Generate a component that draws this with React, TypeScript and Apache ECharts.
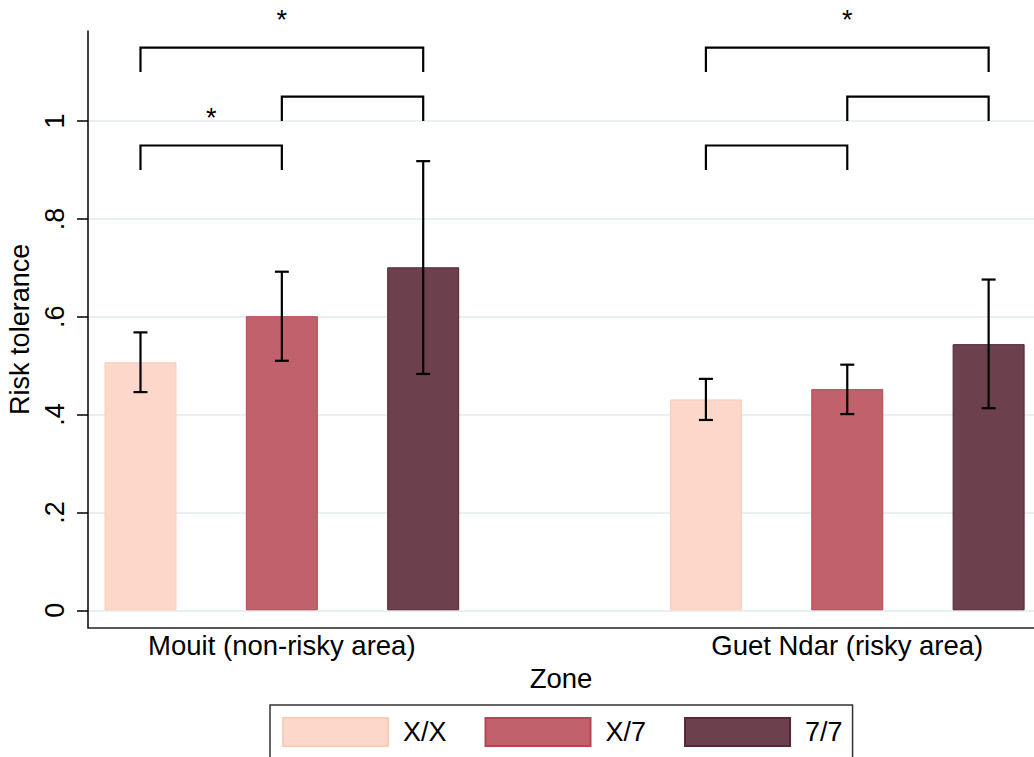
import React, { useEffect, useRef } from "react";
import * as echarts from "echarts";

// ---- data ----
const zones = ["Mouit (non-risky area)", "Guet Ndar (risky area)"];
const groups = ["X/X", "X/7", "7/7"];
const meanXX = [0.507, 0.431];
const meanX7 = [0.601, 0.452];
const mean77 = [0.701, 0.544];
const lowXX = [0.446, 0.389];
const highXX = [0.568, 0.473];
const lowX7 = [0.51, 0.401];
const highX7 = [0.692, 0.502];
const low77 = [0.483, 0.413];
const high77 = [0.918, 0.676];
const yTicks = [0, 0.2, 0.4, 0.6, 0.8, 1];
const yTickLabels = ["0", ".2", ".4", ".6", ".8", "1"];
// significance brackets (group indices within a zone)
const bracketZone = [0, 0, 0, 1, 1, 1];
const bracketFrom = [0, 1, 0, 0, 1, 0];
const bracketTo = [2, 2, 1, 2, 2, 1];
const bracketTop = [1.15, 1.05, 0.95, 1.15, 1.05, 0.95];
const bracketStar = ["*", "", "*", "*", "", ""];

// ---- styles ----
const colors = ["#fdd7c9", "#c0616b", "#6c404c"];
const borderColors = ["#fbcdb9", "#b64656", "#552634"];
const FONT = "'Liberation Sans', Arial, Helvetica, sans-serif";

const means = [meanXX, meanX7, mean77];
const lows = [lowXX, lowX7, low77];
const highs = [highXX, highX7, high77];
const slot = (z: number, g: number) => z * (groups.length + 1) + g + 1;

export default function App() {
  const ref = useRef<HTMLDivElement>(null);
  useEffect(() => {
    if (!ref.current) return;
    const chart = echarts.init(ref.current, null, { renderer: "svg" });

    const barSeries = groups.map((name, g) => ({
      name,
      type: "bar",
      barWidth: 72,
      barGap: "-100%",
      itemStyle: { color: colors[g], borderColor: borderColors[g], borderWidth: 1 },
      data: zones.map((_, z) => [slot(z, g), means[g][z]]),
      z: 2,
    }));

    const errData: number[][] = [];
    groups.forEach((_, g) =>
      zones.forEach((__, z) => errData.push([slot(z, g), lows[g][z], highs[g][z]]))
    );

    const bracketData = bracketZone.map((z, i) => [
      slot(z, bracketFrom[i]),
      slot(z, bracketTo[i]),
      bracketTop[i],
      bracketTop[i] - 0.05,
    ]);

    const option: any = {
      animation: false,
      backgroundColor: "#ffffff",
      textStyle: { fontFamily: FONT },
      grid: {
        left: 88,
        right: 0,
        top: 31,
        bottom: 129.3,
        containLabel: false,
        outerBoundsMode: "none",
      },
      xAxis: {
        type: "value",
        min: 0.6287,
        max: 7.321,
        name: "Zone",
        nameLocation: "middle",
        nameGap: 22,
        nameTextStyle: { fontSize: 27.5, color: "#000", fontFamily: FONT },
        axisLine: { show: true, onZero: false, lineStyle: { color: "#222", width: 1.5 } },
        axisTick: { show: false },
        splitLine: { show: false },
        axisLabel: {
          customValues: zones.map((_, z) => slot(z, 1)),
          formatter: (v: number) => zones[Math.round((v - 2) / (groups.length + 1))] ?? "",
          fontSize: 27.5,
          color: "#000",
          margin: 4,
          fontFamily: FONT,
        },
      },
      yAxis: {
        type: "value",
        min: -0.0356,
        max: 1.184,
        name: "Risk tolerance",
        nameLocation: "middle",
        nameRotate: 90,
        nameGap: 49,
        nameTextStyle: { fontSize: 27, color: "#000", fontFamily: FONT },
        axisLine: { show: true, onZero: false, lineStyle: { color: "#000", width: 1.5 } },
        axisTick: {
          show: true,
          customValues: yTicks,
          length: 11,
          lineStyle: { color: "#000", width: 1.5 },
        },
        axisLabel: {
          customValues: yTicks,
          rotate: 90,
          margin: 20,
          fontSize: 27,
          color: "#000",
          fontFamily: FONT,
          formatter: (v: number) => {
            const i = yTicks.findIndex((t) => Math.abs(t - v) < 1e-6);
            return i >= 0 ? yTickLabels[i] : "";
          },
        },
        splitLine: { show: true, lineStyle: { color: "#e9f0f2", width: 2 } },
      },
      legend: {
        data: groups,
        left: 270,
        top: 705,
        orient: "horizontal",
        icon: "rect",
        itemWidth: 105,
        itemHeight: 28,
        itemGap: 38,
        padding: [12, 10, 11, 12],
        borderColor: "#333",
        borderWidth: 1.5,
        textStyle: { fontSize: 27, color: "#000", fontFamily: FONT, padding: [0, 0, 0, 10] },
        selectedMode: false,
      },
      series: [
        ...barSeries,
        {
          type: "custom",
          name: "errorbars",
          z: 5,
          encode: { x: 0, y: [1, 2] },
          data: errData,
          renderItem: (_p: any, api: any) => {
            const x = api.value(0);
            const lo = api.coord([x, api.value(1)]);
            const hi = api.coord([x, api.value(2)]);
            const half = 7;
            const st = { stroke: "#000", lineWidth: 2.2 };
            return {
              type: "group",
              children: [
                { type: "line", shape: { x1: lo[0], y1: lo[1], x2: hi[0], y2: hi[1] }, style: st },
                { type: "line", shape: { x1: lo[0] - half, y1: lo[1], x2: lo[0] + half, y2: lo[1] }, style: st },
                { type: "line", shape: { x1: hi[0] - half, y1: hi[1], x2: hi[0] + half, y2: hi[1] }, style: st },
              ],
            };
          },
        },
        {
          type: "custom",
          name: "brackets",
          z: 5,
          clip: false,
          encode: { x: [0, 1], y: [2, 3] },
          data: bracketData,
          renderItem: (p: any, api: any) => {
            const a = api.coord([api.value(0), api.value(2)]);
            const b = api.coord([api.value(1), api.value(2)]);
            const legA = api.coord([api.value(0), api.value(3)]);
            const legB = api.coord([api.value(1), api.value(3)]);
            const star = bracketStar[p.dataIndex];
            const starPt = api.coord([(api.value(0) + api.value(1)) / 2, api.value(2) + 0.056]);
            const children: any[] = [
              {
                type: "polyline",
                shape: { points: [legA, a, b, legB] },
                style: { stroke: "#000", lineWidth: 2.2, fill: null },
              },
            ];
            if (star) {
              children.push({
                type: "text",
                x: starPt[0],
                y: starPt[1],
                style: {
                  text: star,
                  fontSize: 27,
                  fontFamily: FONT,
                  fill: "#000",
                  align: "center",
                  verticalAlign: "middle",
                },
              });
            }
            return { type: "group", children };
          },
        },
      ],
    };

    chart.setOption(option);
    return () => chart.dispose();
  }, []);

  return (
    <div
      ref={ref}
      style={{ position: "absolute", left: 0, top: 0, width: 1034, height: 757, background: "#fff" }}
    />
  );
}
